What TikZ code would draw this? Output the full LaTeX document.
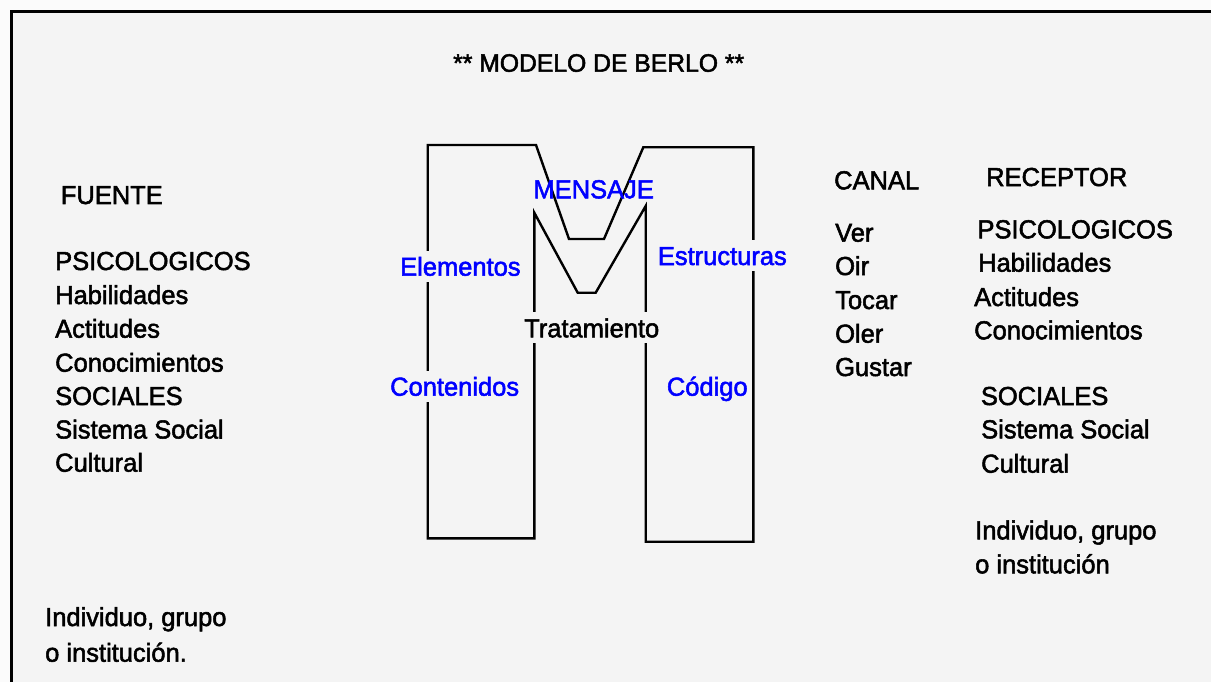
\documentclass[tikz,border=0pt]{standalone}
\usepackage{fontspec}
\setmainfont[FakeBold=2, FakeStretch=0.98]{Liberation Sans}
\definecolor{bgc}{HTML}{F4F4F4}
\definecolor{outc}{HTML}{FBFBFB}
\definecolor{lblue}{HTML}{0000FF}
\tikzset{
  txt/.style={font=\fontsize{26}{26}\selectfont, anchor=base west, inner sep=0pt, text=black},
  blu/.style={txt, text=lblue},
  cover/.style={fill=bgc, text height=25pt, text depth=6pt},
  mline/.style={draw=black, line width=2.4pt, line join=miter},
  frame/.style={draw=black, line width=3pt}
}
\begin{document}
\begin{tikzpicture}[x=1pt, y=-1pt]
\useasboundingbox (0,0) rectangle (1211,682);
\fill[outc] (0,0) rectangle (1211,682);
\fill[bgc] (11,12) rectangle (1211,682);
\draw[frame] (11,682) -- (11,12) -- (1211,12);

% title
\node[txt, font=\fontsize{25.2}{25.2}\selectfont] (title) at (453,71.7) {** MODELO DE BERLO **};

% the M
\draw[mline] (427.7,145) -- (536,145) -- (569,239) -- (604,239) -- (643.3,147.3)
  -- (753.3,147.3) -- (753.3,541.7) -- (645.7,541.7) -- (645.7,206)
  -- (595.7,292.7) -- (577.7,292.7) -- (534.3,212.7) -- (534.3,538.3)
  -- (427.7,538.3) -- cycle;

% M labels
\node[blu] (mensaje) at (533.3,198.3) {MENSAJE};
\node[blu, cover] (elementos) at (400,275.7) {Elementos};
\node[blu, cover] (estructuras) at (657.7,265) {Estructuras};
\node[txt, cover] (tratamiento) at (524,337.3) {Tratamiento};
\node[blu, cover] (contenidos) at (390,395.7) {Contenidos};
\node[blu, cover] (codigo) at (666.7,395.7) {Código};

% FUENTE column
\node[txt] (fuente) at (60.7,204) {FUENTE};
\node[txt] (fpsi) at (55,270) {PSICOLOGICOS};
\node[txt] (fhab) at (55,304) {Habilidades};
\node[txt] (fact) at (55,337.7) {Actitudes};
\node[txt] (fcon) at (55,371.7) {Conocimientos};
\node[txt] (fsoc) at (55,405) {SOCIALES};
\node[txt] (fsis) at (55,438.5) {Sistema Social};
\node[txt] (fcul) at (55,471.7) {Cultural};
\node[txt] (find) at (45,626) {Individuo, grupo};
\node[txt] (fins) at (45,661.7) {o institución.};

% CANAL column
\node[txt] (canal) at (834,189.3) {CANAL};
\node[txt] (ver) at (835,241.7) {Ver};
\node[txt] (oir) at (835,275) {Oir};
\node[txt] (tocar) at (835,309) {Tocar};
\node[txt] (oler) at (835,342.7) {Oler};
\node[txt] (gustar) at (835,376) {Gustar};

% RECEPTOR column
\node[txt] (receptor) at (986,186) {RECEPTOR};
\node[txt] (rpsi) at (977.3,238.3) {PSICOLOGICOS};
\node[txt] (rhab) at (978,271.7) {Habilidades};
\node[txt] (ract) at (974,306) {Actitudes};
\node[txt] (rcon) at (974,339.3) {Conocimientos};
\node[txt] (rsoc) at (980.7,405) {SOCIALES};
\node[txt] (rsis) at (981,438.3) {Sistema Social};
\node[txt] (rcul) at (981,472.7) {Cultural};
\node[txt] (rind) at (975,539.3) {Individuo, grupo};
\node[txt] (rins) at (975,573.3) {o institución};
\end{tikzpicture}
\end{document}
